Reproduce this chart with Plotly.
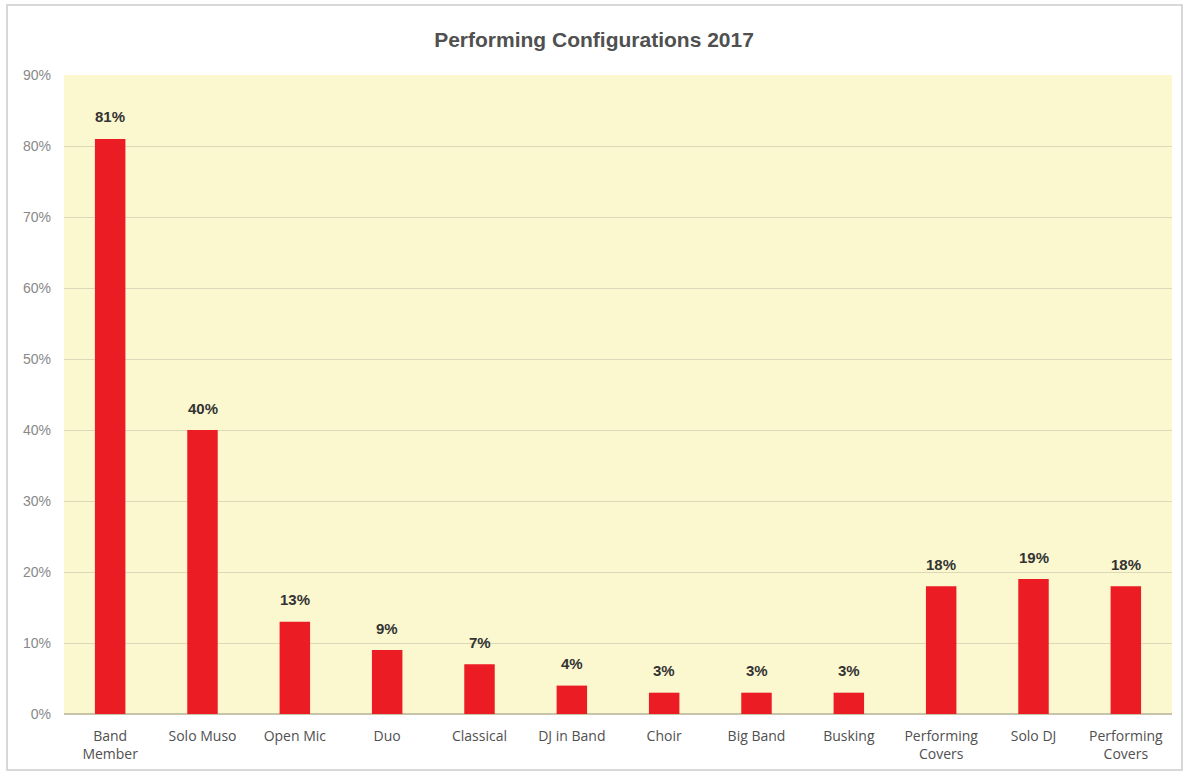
import plotly.graph_objects as go

categories = ["Band<br>Member", "Solo Muso", "Open Mic", "Duo", "Classical", "DJ in Band",
              "Choir", "Big Band", "Busking", "Performing<br>Covers", "Solo DJ", "Performing<br>Covers"]
values = [81, 40, 13, 9, 7, 4, 3, 3, 3, 18, 19, 18]
y_ticks = [0, 10, 20, 30, 40, 50, 60, 70, 80, 90]
y_tick_labels = [f"{v}%" for v in y_ticks]

positions = list(range(len(categories)))

fig = go.Figure()
fig.add_trace(go.Bar(
    x=positions, y=values,
    marker=dict(color="#EC1C24", line=dict(width=0)),
    hoverinfo="skip",
))

for p, v in zip(positions, values):
    fig.add_annotation(x=p, y=v, text=f"<b>{v}%</b>", showarrow=False,
                       yanchor="middle", yshift=22,
                       font=dict(family="Liberation Sans, Arial, sans-serif", size=15, color="#333333"))

W, H = 1188, 776
ml, mr, mt, mb = 64, 16, 75, 62
pw, ph = W - ml - mr, H - mt - mb

fig.update_layout(
    width=W, height=H,
    margin=dict(l=ml, r=mr, t=mt, b=mb, autoexpand=False),
    paper_bgcolor="white",
    plot_bgcolor="#FBF7CF",
    bargap=0.67,
    showlegend=False,
    title=dict(text="<b>Performing Configurations 2017</b>", x=0.5, xanchor="center",
               y=1 - 40 / H, yanchor="middle",
               font=dict(family="Liberation Sans, Arial, sans-serif", size=21, color="#505050")),
    xaxis=dict(
        tickmode="array", tickvals=positions, ticktext=categories,
        range=[-0.5, len(categories) - 0.5],
        showgrid=False, zeroline=False, showline=False, ticks="",
        ticklabelstandoff=12,
        tickfont=dict(family="Open Sans, sans-serif", size=14, color="#505050"),
    ),
    yaxis=dict(
        range=[0, 90], tickmode="array", tickvals=y_ticks, ticktext=y_tick_labels,
        showgrid=True, gridcolor="#DCD8B8", gridwidth=1.2,
        zeroline=True, zerolinecolor="#C8C4A8", zerolinewidth=1.5,
        showline=False, ticks="", ticklabelstandoff=12,
        tickfont=dict(family="Liberation Sans, Arial, sans-serif", size=14, color="#888888"),
    ),
    shapes=[dict(
        type="rect", xref="paper", yref="paper",
        x0=(7 - ml) / pw, x1=(1182 - ml) / pw,
        y0=(H - mb - 770) / ph, y1=(H - mb - 5) / ph,
        line=dict(color="#CCCCCC", width=1.5), fillcolor="rgba(0,0,0,0)", layer="below",
    )],
)

fig.write_html("out.html", config={"displayModeBar": False},
               post_script="document.body.style.margin='0';")
